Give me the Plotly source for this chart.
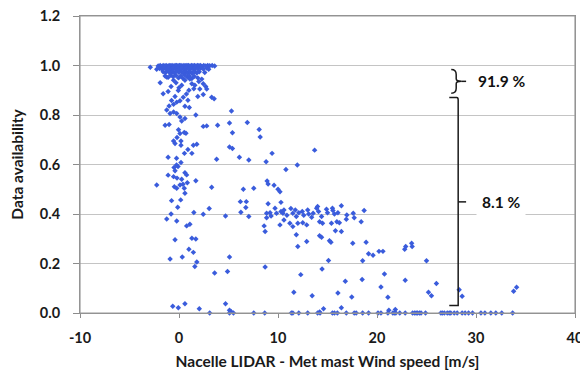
import plotly.graph_objects as go

# ---- data: (wind speed difference [m/s], data availability) ----
band_top = [(-2.9, 0.993), (-2.25, 0.985), (-2.1, 0.998), (-1.9, 1.0), (-1.75, 0.996), (-1.6, 1.0),
            (-1.45, 0.998), (-1.3, 1.0), (-1.15, 0.997), (-1.0, 1.0), (-0.85, 0.999), (-0.7, 1.0),
            (-0.55, 0.998), (-0.4, 1.0), (-0.25, 1.0), (-0.1, 0.999), (0.05, 1.0), (0.2, 1.0),
            (0.35, 0.998), (0.5, 1.0), (0.65, 0.999), (0.8, 1.0), (0.95, 1.0), (1.1, 0.998),
            (1.25, 1.0), (1.4, 0.999), (1.55, 1.0), (1.7, 0.998), (1.85, 1.0), (2.0, 0.999),
            (2.15, 1.0), (2.3, 0.997), (2.5, 1.0), (2.7, 0.998), (2.9, 1.0), (3.1, 0.999),
            (3.35, 1.0), (3.6, 0.998)]
band_second = [(-1.95, 0.988), (-1.7, 0.985), (-1.5, 0.99), (-1.25, 0.986), (-1.05, 0.99), (-0.8, 0.984),
               (-0.6, 0.99), (-0.35, 0.985), (-0.15, 0.99), (0.1, 0.986), (0.3, 0.99), (0.55, 0.984),
               (0.75, 0.99), (1.0, 0.986), (1.2, 0.99), (1.45, 0.985), (1.65, 0.99), (1.9, 0.987),
               (2.2, 0.99), (2.45, 0.986), (2.8, 0.99), (3.0, 0.985)]
band_third = [(-1.6, 0.975), (-1.35, 0.972), (-1.1, 0.978), (-0.9, 0.97), (-0.65, 0.976), (-0.45, 0.97),
              (-0.2, 0.978), (0.0, 0.972), (0.25, 0.976), (0.45, 0.969), (0.7, 0.977), (0.9, 0.97),
              (1.15, 0.975), (1.35, 0.968), (1.6, 0.976), (1.8, 0.97), (2.05, 0.975), (2.6, 0.972),
              (-1.4, 0.958), (-1.1, 0.952), (-0.85, 0.962), (-0.6, 0.955), (-0.3, 0.96), (-0.05, 0.95),
              (0.2, 0.958), (0.4, 0.948), (0.6, 0.962), (0.85, 0.953), (1.05, 0.958), (1.3, 0.947),
              (1.55, 0.956), (1.9, 0.95), (2.3, 0.945)]
core_spread = [(-1.24, 0.953), (-0.55, 0.94), (0.27, 0.92), (0.6, 0.94), (1.3, 0.926), (1.5, 0.906),
               (-0.07, 0.899), (0.43, 0.872), (0.75, 0.885), (-0.23, 0.852), (0.1, 0.858), (-0.75, 0.859),
               (-0.55, 0.843), (-1.0, 0.836), (-0.4, 0.875), (0.6, 0.835), (1.04, 0.83), (2.45, 0.926),
               (2.7, 0.915), (2.1, 0.905), (1.6, 0.92), (2.8, 0.905), (2.45, 0.883), (3.3, 0.872),
               (3.55, 0.866), (-1.6, 0.886), (-1.1, 0.895), (0.0, 0.91), (1.0, 0.9), (-0.8, 0.915),
               (0.9, 0.86), (1.9, 0.875), (-0.3, 0.93), (1.1, 0.945), (-1.9, 0.93), (2.0, 0.935)]
upper_mid = [(-1.24, 0.82), (-0.9, 0.806), (-0.55, 0.812), (-0.23, 0.806), (0.1, 0.792), (0.27, 0.776),
             (0.6, 0.786), (1.7, 0.8), (-1.4, 0.759), (-1.0, 0.762), (0.1, 0.725), (0.53, 0.729),
             (-0.05, 0.74), (2.45, 0.754), (2.8, 0.756), (3.9, 0.759), (5.3, 0.816), (5.1, 0.768),
             (6.9, 0.77), (5.4, 0.728), (8.1, 0.741), (8.2, 0.711), (-0.2, 0.709), (0.7, 0.726),
             (-0.55, 0.695), (0.2, 0.695), (-0.4, 0.685), (0.2, 0.678)]
lower_mid = [(1.45, 0.678), (1.8, 0.682), (0.9, 0.661), (1.3, 0.645), (0.55, 0.645), (-1.1, 0.629),
             (-0.25, 0.625), (3.8, 0.621), (5.1, 0.671), (5.4, 0.665), (6.1, 0.629), (7.05, 0.618),
             (9.4, 0.645), (13.7, 0.658), (10.8, 0.58), (11.95, 0.598), (8.8, 0.611), (0.2, 0.608),
             (-0.25, 0.598), (-0.5, 0.588), (-0.1, 0.592), (-0.4, 0.575), (-1.1, 0.557), (-0.55, 0.551),
             (0.6, 0.567), (0.77, 0.558), (-0.2, 0.545), (1.7, 0.534), (-2.25, 0.517), (0.27, 0.54),
             (0.84, 0.526), (0.1, 0.517), (0.4, 0.52), (-0.47, 0.51), (-0.23, 0.504), (0.53, 0.504),
             (0.6, 0.484), (3.3, 0.508), (6.5, 0.5), (7.55, 0.504), (8.9, 0.533), (9.6, 0.516),
             (10.0, 0.5), (10.2, 0.49), (9.0, 0.521)]
left_low = [(6.2, 0.45), (6.8, 0.45), (6.75, 0.426), (6.25, 0.407), (7.05, 0.39), (-0.75, 0.454),
            (0.17, 0.457), (-0.13, 0.427), (-0.8, 0.4), (-1.24, 0.38), (-0.23, 0.372), (0.77, 0.352),
            (1.1, 0.359), (3.05, 0.422), (1.5, 0.406), (2.45, 0.399), (4.7, 0.392), (-0.4, 0.296),
            (1.3, 0.302), (1.7, 0.299), (-0.9, 0.218), (0.33, 0.226), (1.8, 0.206), (1.6, 0.188),
            (5.1, 0.226), (4.9, 0.168), (3.6, 0.162), (1.0, 0.258), (1.45, 0.245)]
plateau = [(8.6, 0.352), (8.7, 0.329), (9.0, 0.441), (8.85, 0.403), (8.85, 0.385), (9.2, 0.405),
           (9.3, 0.392), (9.7, 0.423), (9.85, 0.403), (10.2, 0.356), (10.3, 0.447), (10.3, 0.41),
           (10.5, 0.403), (10.6, 0.416), (10.6, 0.376), (10.9, 0.395), (11.3, 0.422), (11.5, 0.403),
           (11.2, 0.363), (11.5, 0.349), (11.75, 0.416), (11.85, 0.39), (12.1, 0.405), (12.0, 0.363),
           (12.45, 0.41), (12.5, 0.365), (12.9, 0.356), (12.6, 0.395), (13.0, 0.416), (13.1, 0.4),
           (13.4, 0.387), (13.55, 0.403), (13.9, 0.423), (14.0, 0.43), (14.1, 0.41), (14.4, 0.39),
           (14.2, 0.369), (14.5, 0.363), (14.9, 0.419), (15.0, 0.405), (15.5, 0.423), (15.55, 0.414),
           (15.4, 0.363), (15.7, 0.4), (15.95, 0.369), (16.05, 0.405), (16.2, 0.365), (16.4, 0.433),
           (16.4, 0.329), (15.8, 0.332), (16.95, 0.396), (16.9, 0.379), (17.6, 0.403), (17.7, 0.385),
           (18.4, 0.369), (18.7, 0.414)]
tail = [(11.85, 0.316), (12.0, 0.269), (12.9, 0.289), (14.2, 0.312), (14.4, 0.306), (15.2, 0.292),
        (15.35, 0.286), (17.55, 0.282), (18.9, 0.286), (19.15, 0.239), (19.6, 0.233), (20.2, 0.249),
        (20.6, 0.249), (18.55, 0.211), (15.1, 0.212), (14.45, 0.178), (22.8, 0.258), (22.9, 0.269),
        (23.5, 0.282), (23.55, 0.269), (25.0, 0.211), (8.7, 0.186), (12.3, 0.155), (16.8, 0.128),
        (18.5, 0.135), (20.75, 0.158), (22.85, 0.132), (26.0, 0.119), (20.4, 0.105), (11.6, 0.084),
        (16.05, 0.081), (13.45, 0.07), (17.45, 0.065), (21.1, 0.064), (25.2, 0.084), (25.5, 0.07),
        (28.3, 0.094), (28.6, 0.068), (33.8, 0.088), (34.1, 0.104)]
near_zero = [(-0.63, 0.027), (-0.07, 0.021), (0.6, 0.037), (2.05, 0.017), (4.7, 0.037), (5.1, 0.011),
             (5.25, 0.006), (14.6, 0.017), (16.4, 0.021), (14.2, 0.004), (21.2, 0.011), (21.85, 0.014)]
zero_row_x = [3.1, 5.1, 5.5, 7.55, 8.66, 11.35, 11.5, 12.1, 13.0, 14.0, 14.25, 15.5, 15.7, 16.0, 16.9,
              17.7, 17.9, 18.55, 19.15, 20.1, 20.4, 21.1, 21.6, 21.75, 21.9, 22.3, 22.85, 23.6, 23.8,
              23.95, 24.1, 24.3, 24.45, 24.9, 26.45, 26.6, 26.8, 27.1, 27.3, 27.45, 27.8, 28.1, 28.6,
              28.9, 29.25, 29.65, 30.5, 30.9, 31.5, 32.0, 32.6, 33.7]

x_ticks = [-10, 0, 10, 20, 30, 40]
y_ticks = [0.0, 0.2, 0.4, 0.6, 0.8, 1.0, 1.2]
x_title = "Nacelle LIDAR - Met mast Wind speed [m/s]"
y_title = "Data availability"
share_high = "91.9 %"
share_low = "8.1 %"
# bracket extents (data units)
brace_small = (0.984, 0.888)
brace_large = (0.871, 0.030)
brace_x = 28.0

groups = [band_top, band_second, band_third, core_spread, upper_mid, lower_mid,
          left_low, plateau, tail, near_zero, [(v, 0.0) for v in zero_row_x]]
xs = [p[0] for g in groups for p in g]
ys = [p[1] for g in groups for p in g]

FONT = "Lato"
fig = go.Figure()
fig.add_trace(go.Scatter(
    x=xs, y=ys, mode="markers", cliponaxis=False,
    marker=dict(symbol="diamond", size=4.2, color="#3a5cdc", line=dict(width=0)),
    showlegend=False, hoverinfo="x+y"))

tick_font = dict(family=FONT, size=14.5, color="#1a1a1a", weight="bold")
title_font = dict(family=FONT, size=15.5, color="#1a1a1a", weight="bold")
fig.update_xaxes(range=[-10, 40], tickvals=x_ticks, ticktext=[str(v) for v in x_ticks],
                 showgrid=False, zeroline=False, showline=True, linecolor="#8c8c8c", linewidth=1,
                 mirror=True, ticks="outside", ticklen=4, tickcolor="#8c8c8c",
                 tickfont=tick_font, ticklabelstandoff=8, automargin=False,
                 ticklabeloverflow="allow",
                 title=dict(text=x_title, font=title_font, standoff=10))
fig.update_yaxes(range=[0, 1.2], tickvals=y_ticks, ticktext=[f"{v:.1f}" for v in y_ticks],
                 showgrid=True, gridcolor="#c4c4c4", gridwidth=1, zeroline=False,
                 showline=True, linecolor="#8c8c8c", linewidth=1, mirror=True,
                 ticks="outside", ticklen=6, tickcolor="#8c8c8c",
                 tickfont=tick_font, ticklabelstandoff=10, automargin=False,
                 ticklabeloverflow="allow",
                 title=dict(text=y_title, font=title_font, standoff=12))

# plot-area border (top and right edges)
fig.add_shape(type="rect", xref="paper", yref="paper", x0=0, x1=1, y0=0, y1=1,
              line=dict(color="#9a9a9a", width=1.2), layer="above")

top, bot = brace_small
mid = (top + bot) / 2
bx = brace_x
small_path = (f"M {bx-0.5},{top} Q {bx},{top} {bx},{top-0.02} L {bx},{mid+0.01} "
              f"Q {bx},{mid} {bx+0.5},{mid} Q {bx},{mid} {bx},{mid-0.01} "
              f"L {bx},{bot+0.02} Q {bx},{bot} {bx-0.5},{bot}")
ltop, lbot = brace_large
lx = bx + 0.2
large_path = (f"M {bx-0.7},{ltop} L {lx-0.15},{ltop} Q {lx},{ltop} {lx},{ltop-0.01} "
              f"L {lx},{lbot} L {bx-0.7},{lbot}")
line_style = dict(color="#1a1a1a", width=1.5)
fig.add_shape(type="path", path=small_path, xref="x", yref="y", line=line_style)
fig.add_shape(type="line", x0=bx + 0.5, x1=bx + 1.0, y0=mid, y1=mid, xref="x", yref="y", line=line_style)
fig.add_shape(type="path", path=large_path, xref="x", yref="y", line=line_style)
lmid = 0.449
fig.add_shape(type="line", x0=lx, x1=lx + 0.8, y0=lmid, y1=lmid, xref="x", yref="y", line=line_style)

ann_font = dict(family=FONT, size=15.5, color="#111111", weight="bold")
fig.add_annotation(x=30.0, y=mid, text=share_high, showarrow=False, xanchor="left",
                   font=ann_font, xref="x", yref="y")
fig.add_annotation(x=30.0, y=lmid, text=share_low, showarrow=False, xanchor="left",
                   font=ann_font, bgcolor="white", borderpad=5, xref="x", yref="y")

fig.update_layout(width=580, height=375,
                  margin=dict(l=80, r=5, t=16, b=62, autoexpand=False),
                  paper_bgcolor="white", plot_bgcolor="white")
# remove the default page margin so the figure fills the 580x375 window exactly
fig.write_html("out.html", config={"displayModeBar": False},
               post_script="document.body.style.margin='0';document.body.style.overflow='hidden';")
